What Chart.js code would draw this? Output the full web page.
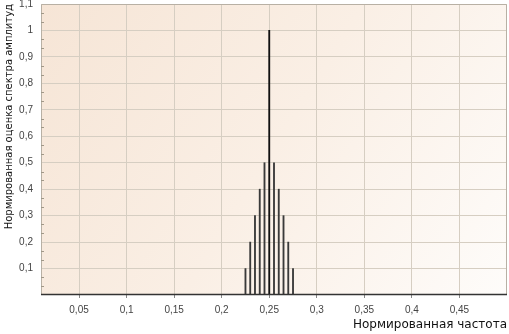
<!DOCTYPE html>
<html><head><meta charset="utf-8">
<script src="https://cdn.jsdelivr.net/npm/chart.js@4/dist/chart.umd.min.js"></script>
<style>html,body{margin:0;padding:0;background:#fff;}#wrap{width:509px;height:334px;}</style>
</head><body><div id="wrap"><canvas id="c" width="509" height="334"></canvas></div>
<script>
const freqs = [0.225,0.23,0.235,0.24,0.245,0.25,0.255,0.26,0.265,0.27,0.275];
const amps  = [0.1,0.2,0.3,0.4,0.5,1.0,0.5,0.4,0.3,0.2,0.1];
const xTicks = [0.05,0.1,0.15,0.2,0.25,0.3,0.35,0.4,0.45];
const yTicks = [0.1,0.2,0.3,0.4,0.5,0.6,0.7,0.8,0.9,1,1.1];
const xTitle = 'Нормированная частота';
const yTitle = 'Нормированная оценка спектра амплитуд';

const fmt = v => String(Math.round(v*1000)/1000).replace('.', ',');
const FONT = 'DejaVu Sans';
const TFONT = 'Liberation Sans';

const bgPlugin = {
  id:'bg',
  beforeDraw(chart){
    const {ctx, chartArea:a} = chart;
    ctx.save();
    const g = ctx.createLinearGradient(a.left, a.top, a.right, a.bottom);
    g.addColorStop(0, '#f6e5d6');
    g.addColorStop(0.5, '#faefe5');
    g.addColorStop(1, '#fefcfa');
    ctx.fillStyle = g;
    ctx.fillRect(a.left, a.top, a.right-a.left, a.bottom-a.top);
    ctx.restore();
  },
  afterDraw(chart){
    const {ctx, chartArea:a} = chart;
    const ys = chart.scales.y;
    ctx.save();
    ctx.strokeStyle = '#b8b0a4';
    ctx.lineWidth = 1;
    ctx.beginPath();
    ctx.moveTo(a.left+0.5, a.bottom);
    ctx.lineTo(a.left+0.5, a.top+0.5);
    ctx.lineTo(a.right-0.5, a.top+0.5);
    ctx.lineTo(a.right-0.5, a.bottom);
    ctx.stroke();
    // minor ticks on left axis
    ctx.strokeStyle = '#a09888';
    ctx.beginPath();
    for (let i = 0; i < yTicks.length; i++) {
      const base = i === 0 ? 0 : yTicks[i-1];
      const step = (yTicks[i] - base) / 3;
      for (let k = 1; k < 3; k++) {
        const py = Math.round(ys.getPixelForValue(base + k*step)) + 0.5;
        ctx.moveTo(a.left, py); ctx.lineTo(a.left + 3, py);
      }
    }
    ctx.stroke();
    ctx.strokeStyle = '#333';
    ctx.lineWidth = 1.5;
    ctx.beginPath();
    ctx.moveTo(a.left, a.bottom-0.5);
    ctx.lineTo(a.right, a.bottom-0.5);
    ctx.stroke();
    ctx.restore();
  }
};

new Chart(document.getElementById('c'), {
  type:'bar',
  data:{ datasets:[{
    data: freqs.map((f,i)=>({x:f, y:amps[i]})),
    backgroundColor: ctx => (ctx.raw && ctx.raw.y >= 1) ? '#111' : '#3a3a3a',
    borderWidth:0,
    barThickness: ctx => (ctx.raw && ctx.raw.y >= 1) ? 1.6 : 1.2
  }]},
  options:{
    responsive:false, animation:false, devicePixelRatio:1,
    layout:{padding:{left:0,right:2,top:4,bottom:0}},
    plugins:{legend:{display:false}, tooltip:{enabled:false}},
    scales:{
      x:{
        type:'linear', min:0.01, max:0.5, offset:false,
        afterBuildTicks: s => { s.ticks = xTicks.map(v=>({value:v})); },
        afterFit: s => { s.height = 39; },
        ticks:{ callback: v=>fmt(v), font:{family:TFONT,size:10}, color:'#444', padding:6, maxRotation:0, autoSkip:false },
        grid:{ color:'#d6cec2', lineWidth:1, tickLength:3, tickColor:'#888', offset:false },
        border:{display:false},
        title:{ display:true, text:xTitle, align:'end', font:{family:FONT,size:12}, color:'#111', padding:{top:0,bottom:2} }
      },
      y:{
        min:0, max:1.1,
        afterBuildTicks: s => { s.ticks = yTicks.map(v=>({value:v})); },
        afterFit: s => { s.width = 41; s.paddingTop = 0; s.paddingBottom = 0; },
        ticks:{ callback: v=>fmt(v), font:{family:TFONT,size:10}, color:'#444', padding:8 },
        grid:{ color:'#d6cec2', lineWidth:1, tickLength:0 },
        border:{display:false},
        title:{ display:true, text:yTitle, align:'end', font:{family:FONT,size:10}, color:'#111', padding:{top:3,bottom:0} }
      }
    }
  },
  plugins:[bgPlugin]
});
</script></body></html>
